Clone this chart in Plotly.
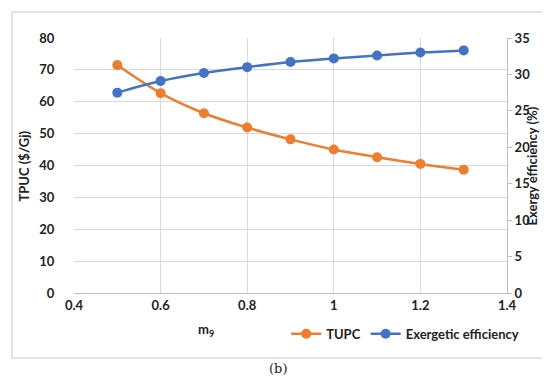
import plotly.graph_objects as go

m9 = [0.5, 0.6, 0.7, 0.8, 0.9, 1.0, 1.1, 1.2, 1.3]
tupc = [71.5, 62.7, 56.4, 51.9, 48.2, 45.0, 42.6, 40.5, 38.7]
exergetic = [27.5, 29.1, 30.2, 31.0, 31.7, 32.2, 32.6, 33.0, 33.3]

ORANGE = "#ED7D31"
BLUE = "#4472C4"
FONT = "Lato"

fig = go.Figure()
fig.add_trace(go.Scatter(x=m9, y=tupc, name="TUPC", mode="lines+markers",
                         line=dict(color=ORANGE, width=2.5, shape="spline"),
                         marker=dict(size=10, color=ORANGE)))
fig.add_trace(go.Scatter(x=m9, y=exergetic, name="Exergetic efficiency", mode="lines+markers",
                         line=dict(color=BLUE, width=2.5, shape="spline"),
                         marker=dict(size=10, color=BLUE), yaxis="y2"))

tickfont = dict(family=FONT, size=13, color="#222222", weight="bold")
titlefont = dict(family=FONT, size=13, color="#222222", weight="bold")
fig.update_layout(
    width=550, height=382,
    margin=dict(l=66, r=51, t=30, b=97),
    paper_bgcolor="white", plot_bgcolor="white",
    font=dict(family=FONT, size=13, color="#222222"),
    xaxis=dict(range=[0.4, 1.4], dtick=0.2, tick0=0.4, showgrid=True, gridcolor="#D9D9D9",
               gridwidth=1, zeroline=False, showline=True, linecolor="#BFBFBF",
               tickfont=tickfont, ticks="", ticklabelstandoff=0),
    yaxis=dict(range=[0, 80], dtick=10, showgrid=True, gridcolor="#D9D9D9", zeroline=False,
               showline=False, tickfont=tickfont, ticks="outside", ticklen=16,
               tickcolor="rgba(0,0,0,0)"),
    yaxis2=dict(range=[0, 35], dtick=5, overlaying="y", side="right", showgrid=False,
                zeroline=False, showline=True, linecolor="#BFBFBF", ticks="outside",
                ticklen=4, tickcolor="#BFBFBF", tickfont=tickfont, ticklabelstandoff=0),
    legend=dict(orientation="h", x=0.49, y=-0.16, xanchor="left", yanchor="middle",
                font=titlefont, bgcolor="rgba(0,0,0,0)", itemwidth=30),
    showlegend=True,
)

fig.add_shape(type="rect", xref="paper", yref="paper", x0=-0.143, x1=1.1016, y0=-0.255, y1=1.102,
              line=dict(color="#D9D9D9", width=1.5), fillcolor="rgba(0,0,0,0)", layer="below")
fig.add_annotation(text="m<sub>9</sub>", xref="paper", yref="paper", x=0.305, y=-0.145,
                   showarrow=False, font=titlefont, xanchor="center", yanchor="middle")
fig.add_annotation(text="TPUC ($/Gj)", xref="paper", yref="paper", x=-0.1155, y=0.5,
                   showarrow=False, font=titlefont, textangle=-90, xanchor="center", yanchor="middle")
fig.add_annotation(text="Exergy efficiency (%)", xref="paper", yref="paper", x=1.0577, y=0.5,
                   showarrow=False, font=titlefont, textangle=-90, xanchor="center", yanchor="middle")
fig.add_annotation(text="(b)", xref="paper", yref="paper", x=0.47, y=-0.335, showarrow=False,
                   font=dict(family="DejaVu Serif", size=13, color="#222222"))

fig.write_html("out.html")
